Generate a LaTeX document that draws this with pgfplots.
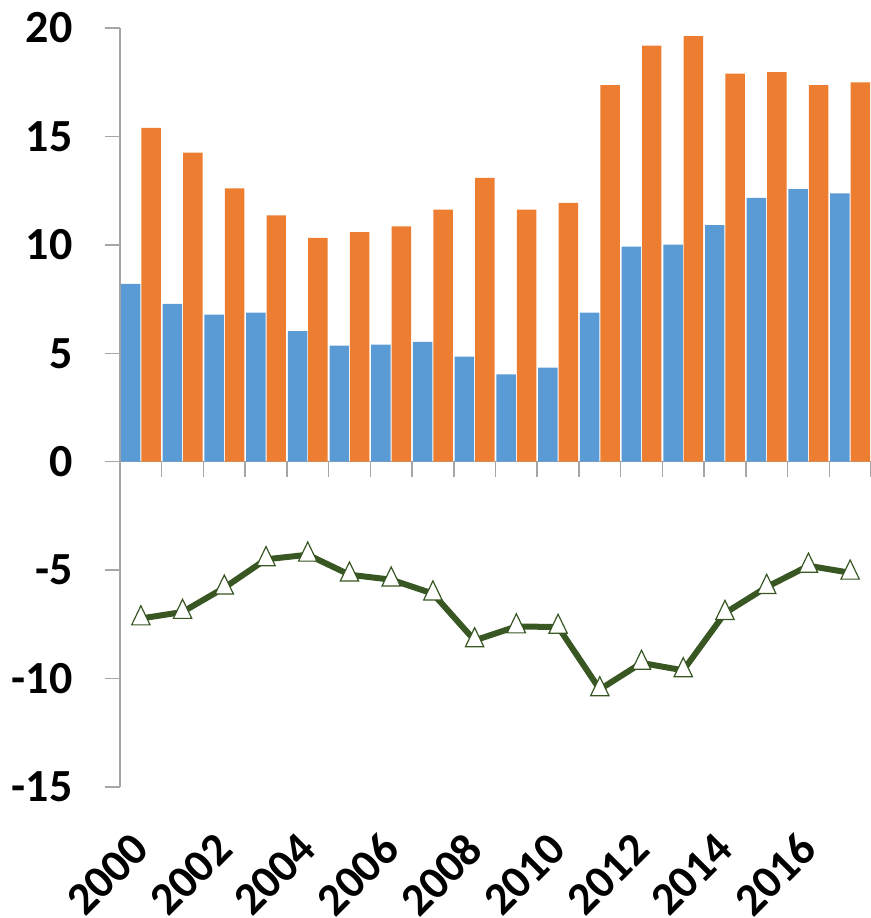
\documentclass[border=0pt]{standalone}
\usepackage{pgfplots}
\pgfplotsset{compat=1.18}
\usepackage{fontspec}
\setmainfont{Carlito}
\definecolor{cblue}{RGB}{91,155,213}
\definecolor{corange}{RGB}{237,125,49}
\definecolor{cgreen}{RGB}{56,87,35}
\definecolor{caxis}{RGB}{166,166,166}
\newcommand{\lblfont}{\bfseries\fontsize{23}{27}\selectfont}
\begin{document}
\begin{tikzpicture}
\useasboundingbox (0,0) rectangle (435.5pt,459pt);
\begin{axis}[
  at={(60pt,65.5pt)}, anchor=south west,
  scale only axis, width=375.5pt, height=379.5pt,
  xmin=-0.5, xmax=17.5, ymin=-15, ymax=20,
  axis y line*=left, axis x line*=middle,
  axis line style={caxis, line width=0.75pt},
  ytick={-15,-10,-5,0,5,10,15,20},
  yticklabels={-15,-10,-5,0,5,10,15,20},
  xtick={-0.5,0.5,...,17.5}, xticklabels={},
  tick style={caxis, line width=0.75pt},
  major tick length=7.5pt,
  tick align=outside,
  yticklabel style={font=\lblfont, anchor=east, inner sep=0pt, xshift=-16pt},
  clip=false,
]
\addplot[ybar, bar width=0.467, bar shift=-0.245, fill=cblue, draw=none] coordinates {
(0,8.20) (1,7.28) (2,6.78) (3,6.87) (4,6.02) (5,5.35) (6,5.40) (7,5.53) (8,4.85)
(9,4.03) (10,4.34) (11,6.88) (12,9.92) (13,10.01) (14,10.91) (15,12.17) (16,12.57) (17,12.37)};
\addplot[ybar, bar width=0.467, bar shift=0.245, fill=corange, draw=none] coordinates {
(0,15.40) (1,14.25) (2,12.60) (3,11.36) (4,10.32) (5,10.59) (6,10.85) (7,11.62) (8,13.09)
(9,11.63) (10,11.94) (11,17.37) (12,19.19) (13,19.62) (14,17.90) (15,17.96) (16,17.37) (17,17.49)};
\addplot[cgreen, line width=3pt, mark=triangle*, mark size=5.3pt,
  mark options={fill=white, draw=cgreen, line width=0.6pt, yscale=1.2}] coordinates {
(0,-7.23) (1,-6.93) (2,-5.81) (3,-4.50) (4,-4.29) (5,-5.21) (6,-5.44) (7,-6.08) (8,-8.24)
(9,-7.60) (10,-7.62) (11,-10.50) (12,-9.28) (13,-9.62) (14,-6.98) (15,-5.78) (16,-4.80) (17,-5.12)};
\node[rotate=45, anchor=east, inner sep=0pt, font=\lblfont] at (axis cs:0,-17.5) {2000};
\node[rotate=45, anchor=east, inner sep=0pt, font=\lblfont] at (axis cs:2,-17.5) {2002};
\node[rotate=45, anchor=east, inner sep=0pt, font=\lblfont] at (axis cs:4,-17.5) {2004};
\node[rotate=45, anchor=east, inner sep=0pt, font=\lblfont] at (axis cs:6,-17.5) {2006};
\node[rotate=45, anchor=east, inner sep=0pt, font=\lblfont] at (axis cs:8,-17.5) {2008};
\node[rotate=45, anchor=east, inner sep=0pt, font=\lblfont] at (axis cs:10,-17.5) {2010};
\node[rotate=45, anchor=east, inner sep=0pt, font=\lblfont] at (axis cs:12,-17.5) {2012};
\node[rotate=45, anchor=east, inner sep=0pt, font=\lblfont] at (axis cs:14,-17.5) {2014};
\node[rotate=45, anchor=east, inner sep=0pt, font=\lblfont] at (axis cs:16,-17.5) {2016};
\end{axis}
\end{tikzpicture}
\end{document}
